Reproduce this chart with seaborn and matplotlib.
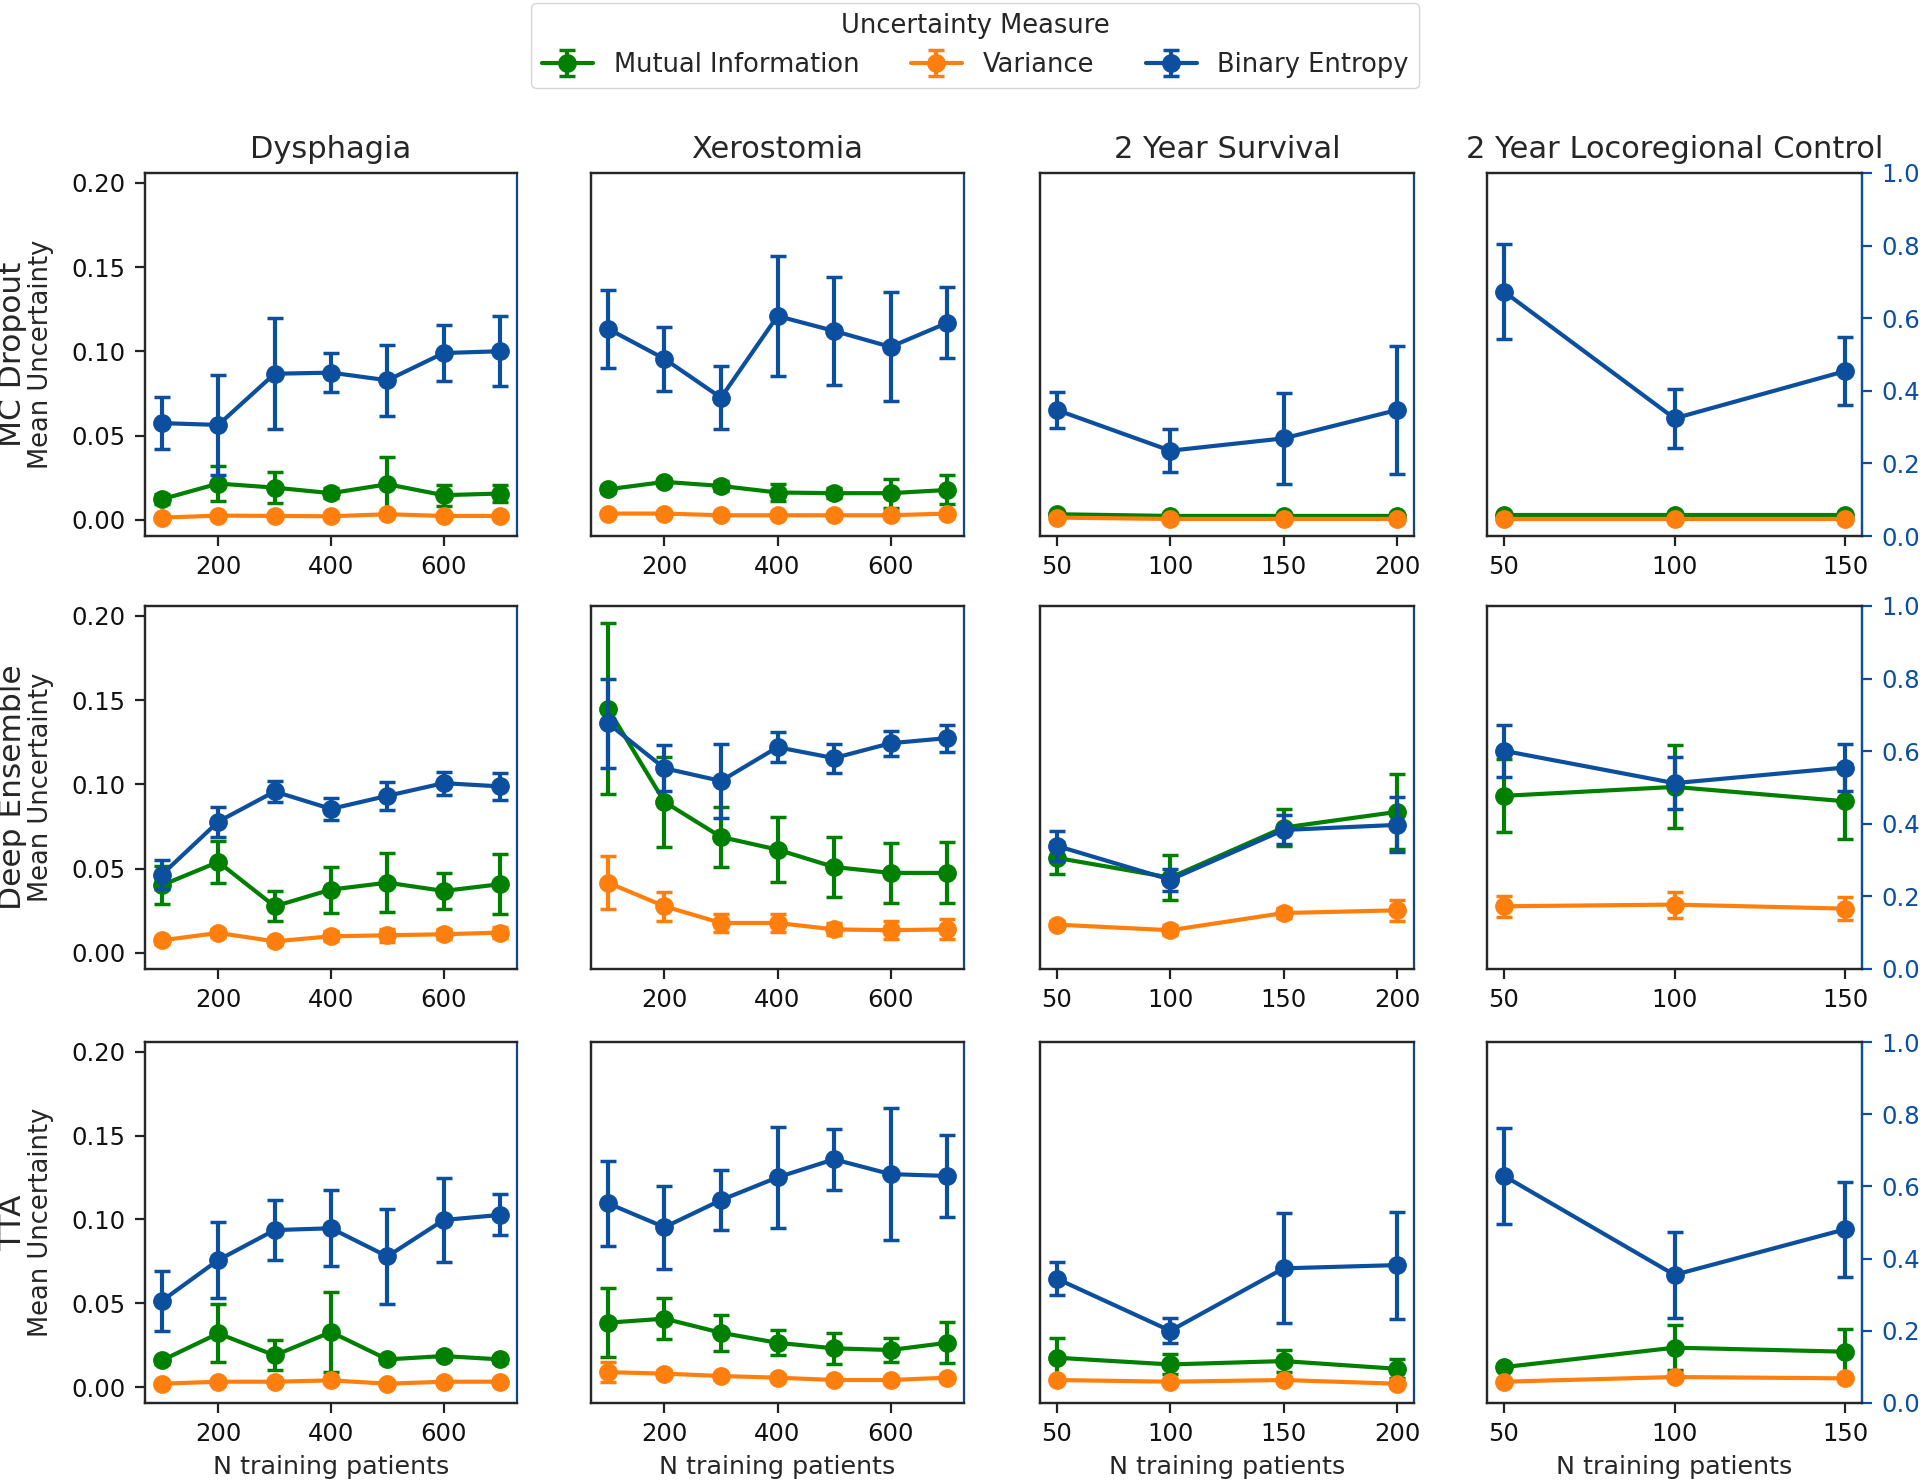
import matplotlib
matplotlib.use("Agg")
import matplotlib.pyplot as plt
import seaborn as sns

# tasks / rows
tasks = ["Dysphagia", "Xerostomia", "2 Year Survival", "2 Year Locoregional Control"]
methods = ["MC Dropout", "Deep Ensemble", "TTA"]
measures = ["Mutual Information", "Variance", "Binary Entropy"]

n_hn = [100, 200, 300, 400, 500, 600, 700]
n_surv = [50, 100, 150, 200]
n_lrc = [50, 100, 150]
n_patients = [n_hn, n_hn, n_surv, n_lrc]

# MC Dropout
mc_mi = [[0.0123, 0.0216, 0.0192, 0.0159, 0.0212, 0.0147, 0.0157],
         [0.0182, 0.0226, 0.0202, 0.0163, 0.0159, 0.0159, 0.0178],
         [0.0034, 0.0024, 0.0024, 0.0024],
         [0.0030, 0.0030, 0.0030]]
mc_mi_err = [[0.003, 0.0106, 0.0094, 0.003, 0.0163, 0.0062, 0.005],
             [0.002, 0.002, 0.003, 0.0048, 0.003, 0.0086, 0.0086],
             [0.001, 0.001, 0.001, 0.001],
             [0.001, 0.001, 0.001]]
mc_var = [[0.0014, 0.0026, 0.0024, 0.0022, 0.0034, 0.0024, 0.0024],
          [0.0038, 0.0038, 0.0028, 0.0028, 0.0028, 0.0028, 0.0038],
          [0.0014, 0.0006, 0.0006, 0.0006],
          [0.0008, 0.0008, 0.0008]]
mc_var_err = [[0.0008] * 7, [0.0008] * 7, [0.0006] * 4, [0.0006] * 3]
mc_be = [[0.311, 0.306, 0.447, 0.450, 0.429, 0.504, 0.509],
         [0.571, 0.488, 0.381, 0.606, 0.565, 0.521, 0.587],
         [0.347, 0.235, 0.269, 0.347],
         [0.673, 0.324, 0.454]]
mc_be_err = [[0.071, 0.138, 0.153, 0.054, 0.098, 0.077, 0.097],
             [0.107, 0.088, 0.087, 0.164, 0.148, 0.150, 0.098],
             [0.049, 0.059, 0.126, 0.176],
             [0.131, 0.082, 0.094]]

# Deep Ensemble
de_mi = [[0.0402, 0.054, 0.0277, 0.0376, 0.0417, 0.0368, 0.0408],
         [0.145, 0.0896, 0.0688, 0.0613, 0.051, 0.0475, 0.0475],
         [0.0564, 0.0447, 0.0744, 0.0837],
         [0.0932, 0.0985, 0.090]]
de_mi_err = [[0.0112, 0.0127, 0.0089, 0.0136, 0.0175, 0.0109, 0.0177],
             [0.0506, 0.0265, 0.0176, 0.0193, 0.0178, 0.0176, 0.0181],
             [0.0094, 0.0132, 0.0109, 0.0223],
             [0.0216, 0.0246, 0.0223]]
de_var = [[0.0075, 0.0119, 0.0069, 0.0099, 0.0105, 0.0111, 0.0121],
          [0.0417, 0.0277, 0.0178, 0.0178, 0.014, 0.0135, 0.014],
          [0.0168, 0.0135, 0.0237, 0.0253],
          [0.0277, 0.0287, 0.0263]]
de_var_err = [[0.002, 0.0025, 0.002, 0.003, 0.004, 0.003, 0.0035],
              [0.0158, 0.0087, 0.0054, 0.0054, 0.0035, 0.0052, 0.0059],
              [0.002, 0.003, 0.003, 0.0063],
              [0.0062, 0.0077, 0.0067]]
de_be = [[0.260, 0.406, 0.489, 0.441, 0.477, 0.512, 0.503],
         [0.677, 0.553, 0.518, 0.611, 0.581, 0.622, 0.636],
         [0.339, 0.246, 0.383, 0.397],
         [0.601, 0.512, 0.555]]
de_be_err = [[0.039, 0.041, 0.030, 0.031, 0.038, 0.032, 0.038],
             [0.122, 0.064, 0.102, 0.042, 0.040, 0.035, 0.037],
             [0.042, 0.030, 0.040, 0.076],
             [0.072, 0.071, 0.066]]

# TTA
tta_mi = [[0.0159, 0.032, 0.0189, 0.0328, 0.0165, 0.0185, 0.0165],
          [0.0384, 0.0408, 0.0324, 0.0264, 0.0231, 0.0221, 0.0264],
          [0.0175, 0.0135, 0.0155, 0.0109],
          [0.0119, 0.0235, 0.0211]]
tta_mi_err = [[0.002, 0.0173, 0.0089, 0.0239, 0.002, 0.002, 0.002],
              [0.0207, 0.0121, 0.0106, 0.0075, 0.0092, 0.0073, 0.0122],
              [0.0119, 0.006, 0.0067, 0.0057],
              [0.002, 0.0135, 0.0137]]
tta_var = [[0.002, 0.0032, 0.0032, 0.004, 0.002, 0.0032, 0.0032],
           [0.0089, 0.008, 0.0066, 0.0056, 0.0042, 0.0042, 0.0056],
           [0.0042, 0.0032, 0.0042, 0.002],
           [0.0032, 0.006, 0.0052]]
tta_var_err = [[0.001] * 7,
               [0.006, 0.002, 0.002, 0.0015, 0.0015, 0.0015, 0.0015],
               [0.001] * 4,
               [0.001] * 3]
tta_be = [[0.283, 0.396, 0.479, 0.484, 0.406, 0.507, 0.521],
          [0.553, 0.487, 0.562, 0.625, 0.675, 0.634, 0.629],
          [0.344, 0.200, 0.373, 0.382],
          [0.629, 0.355, 0.481]]
tta_be_err = [[0.084, 0.106, 0.084, 0.105, 0.131, 0.117, 0.057],
              [0.117, 0.115, 0.083, 0.140, 0.085, 0.182, 0.114],
              [0.046, 0.035, 0.152, 0.148],
              [0.133, 0.120, 0.132]]

rows = [
    (mc_mi, mc_mi_err, mc_var, mc_var_err, mc_be, mc_be_err),
    (de_mi, de_mi_err, de_var, de_var_err, de_be, de_be_err),
    (tta_mi, tta_mi_err, tta_var, tta_var_err, tta_be, tta_be_err),
]

sns.set_theme(style="ticks")
plt.rcParams["font.family"] = ["DejaVu Sans"]
plt.rcParams["axes.linewidth"] = 1.6
plt.rcParams["xtick.major.width"] = 1.6
plt.rcParams["ytick.major.width"] = 1.6
plt.rcParams["xtick.major.size"] = 7
plt.rcParams["ytick.major.size"] = 7
plt.rcParams["xtick.major.pad"] = 7
plt.rcParams["ytick.major.pad"] = 7

GREEN = "green"
ORANGE = sns.color_palette("tab10")[1]
BLUE = "#0b4f9e"

W, H = 1920, 1484
col_x = [(145, 517), (591, 964), (1040, 1414), (1487, 1862)]
row_y = [(173, 536), (606, 969), (1042, 1403)]

fig, axes = plt.subplots(3, 4, figsize=(19.2, 14.84), dpi=100)

eb_kw = dict(fmt="-o", markersize=12.5, linewidth=3, elinewidth=3,
             capsize=5.5, capthick=2.5)

handles = []
for r, (mi, mi_e, var, var_e, be, be_e) in enumerate(rows):
    for c in range(4):
        ax = axes[r, c]
        x0, x1 = col_x[c]
        y0, y1 = row_y[r]
        ax.set_position([x0 / W, 1 - y1 / H, (x1 - x0) / W, (y1 - y0) / H])
        x = n_patients[c]
        h1 = ax.errorbar(x, mi[c], yerr=mi_e[c], color=GREEN, label=measures[0], **eb_kw)
        h2 = ax.errorbar(x, var[c], yerr=var_e[c], color=ORANGE, label=measures[1], **eb_kw)
        ax.set_ylim(-0.0095, 0.2058)
        ax.tick_params(labelsize=17.5, colors="#222222", labelcolor="#111111")

        tw = ax.twinx()
        tw.set_position(ax.get_position())
        h3 = tw.errorbar(x, be[c], yerr=be_e[c], color=BLUE, label=measures[2], **eb_kw)
        tw.set_ylim(0, 1)
        tw.spines["right"].set_color(BLUE)
        if c == 3:
            tw.tick_params(axis="y", labelsize=17.5, colors=BLUE)
            tw.set_yticks([0, 0.2, 0.4, 0.6, 0.8, 1.0])
        else:
            tw.set_yticks([])
            tw.spines["right"].set_linewidth(1.2)

        if c == 0:
            ax.set_yticks([0, 0.05, 0.10, 0.15, 0.20])
            ax.set_yticklabels(["0.00", "0.05", "0.10", "0.15", "0.20"])
        else:
            ax.set_yticks([])

        if c == 3:
            ax.set_xticks([50, 100, 150])
        elif c == 2:
            ax.set_xticks([50, 100, 150, 200])
        else:
            ax.set_xticks([200, 400, 600])

        if r == 0:
            ax.set_title(tasks[c], fontsize=22, pad=11)
        if r == 2:
            ax.set_xlabel("N training patients", fontsize=18.3, labelpad=6)
        if r == 0 and c == 0:
            handles = [h1, h2, h3]

    yc = 1 - (row_y[r][0] + row_y[r][1]) / 2 / H
    fig.text(13 / W, yc, methods[r], rotation=90, ha="center", va="center", fontsize=22.5)
    fig.text(41 / W, yc, "Mean Uncertainty", rotation=90, ha="center", va="center", fontsize=18.5)

leg = fig.legend(handles, measures, loc="upper center", bbox_to_anchor=(0.508, 0.998),
                 borderaxespad=0, ncol=3, title="Uncertainty Measure", fontsize=18.5,
                 title_fontsize=18.5, frameon=True, handlelength=2.0, columnspacing=2.0)
leg.get_frame().set_edgecolor("#cccccc")

fig.savefig("out.png", dpi=100)
